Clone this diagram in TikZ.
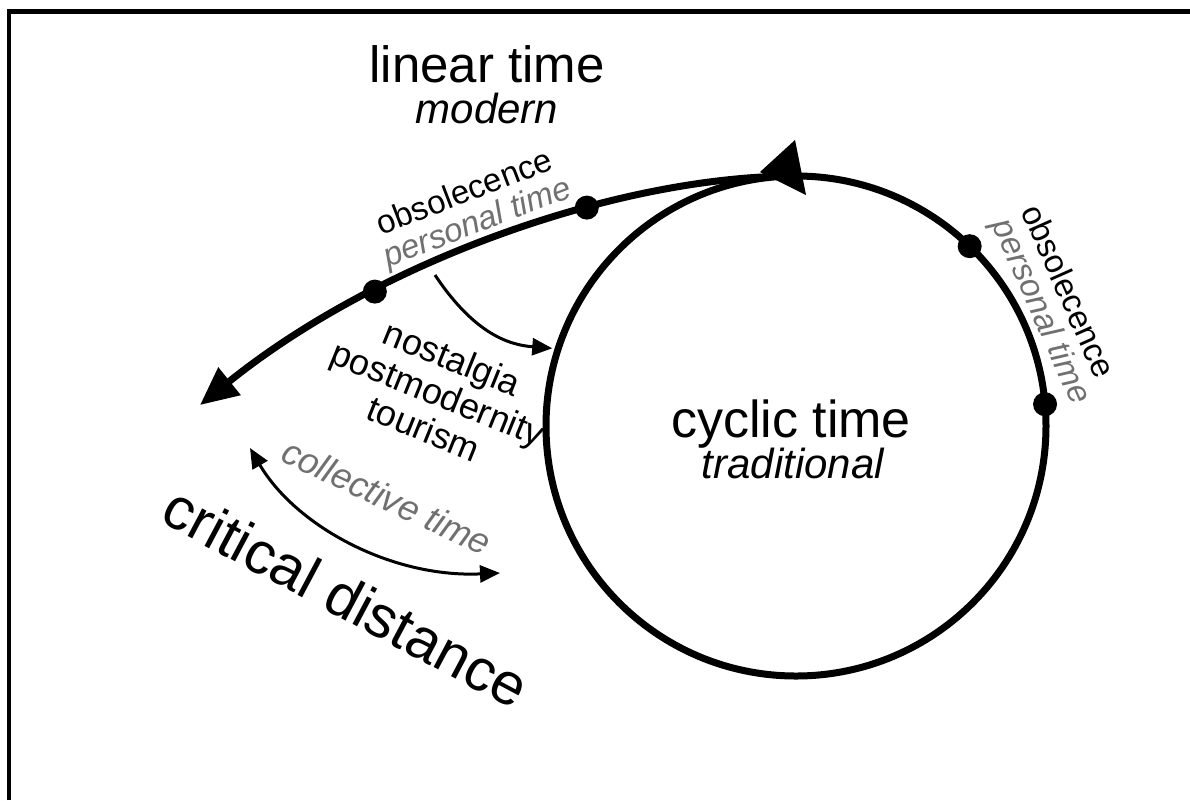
\documentclass[tikz,border=0pt]{standalone}
\usepackage{fontspec}
\setmainfont{Liberation Sans}
\usetikzlibrary{arrows.meta}
\definecolor{softgray}{RGB}{112,112,112}
\begin{document}
\begin{tikzpicture}[x=0.5pt,y=-0.5pt,
  >={Triangle[length=10pt,width=8.5pt]},
  dot/.style={circle,fill=black,inner sep=0pt,minimum size=12pt},
  thinarrow/.style={line width=1.5pt},
  small/.style={font=\fontsize{16.5}{19}\selectfont},
  grey/.style={small,text=softgray,font=\fontsize{16.5}{19}\selectfont\itshape}]
\useasboundingbox (0,0) rectangle (1190,800);
\fill [white] (0,0) rectangle (1190,800);
\draw [line width=2.2pt] (9,800) -- (9,11.5) -- (1190,11.5);
\node [draw,circle,line width=3.5pt,minimum size=250pt,inner sep=0pt,outer sep=0pt] (cyc) at (796,426) {};
\fill (760,172) -- (795,140) -- (806,195) -- cycle;
\coordinate (lend) at (200,405);
\draw [line width=3.5pt,-{Triangle[length=19pt,width=17pt]}] (cyc.north) .. controls (620,176) and (380,260) .. (lend)
  node [pos=0.36,dot] (p1) {} node [pos=0.7,dot] (p2) {};
\node [dot] (p3) at (cyc.46) {};
\node [dot] (p4) at (cyc.5) {};
\node [anchor=base,font=\fontsize{25.5}{30}\selectfont] (lin) at (487,82) {linear time};
\node [anchor=base,font=\fontsize{21}{25}\selectfont\itshape] (mod) at (487,123) {modern};
\node [anchor=base,font=\fontsize{26}{30}\selectfont] (cyct) at (791,437) {cyclic time};
\node [anchor=base,font=\fontsize{21}{25}\selectfont\itshape] (trad) at (793,478) {traditional};
\node [small,rotate=21] (obs1) at (464,191) {obsolecence};
\node [grey,rotate=21] (pers1) at (478,224) {personal time};
\node [small,rotate=-66] (obs2) at (1069,291) {obsolecence};
\node [grey,rotate=-66] (pers2) at (1040,312) {personal time};
\node [align=center,rotate=-22,font=\fontsize{18}{19}\selectfont] (nost) at (438,393) {nostalgia\\postmodernity\\tourism};
\node [grey,rotate=-25,font=\fontsize{18}{20}\selectfont\itshape] (coll) at (387,497) {collective time};
\node [rotate=-28,font=\fontsize{29.5}{32}\selectfont] (crit) at (346,597) {critical distance};
\coordinate (nsrc) at (435,275);
\draw [thinarrow,->,shorten >=3pt] (nsrc) .. controls (475,335) and (510,345) .. (cyc.162);
\coordinate (ca) at (250,448);
\coordinate (cb) at (500,573);
\draw [thinarrow,<->] (ca) .. controls (295,525) and (390,578) .. (cb);
\end{tikzpicture}
\end{document}
